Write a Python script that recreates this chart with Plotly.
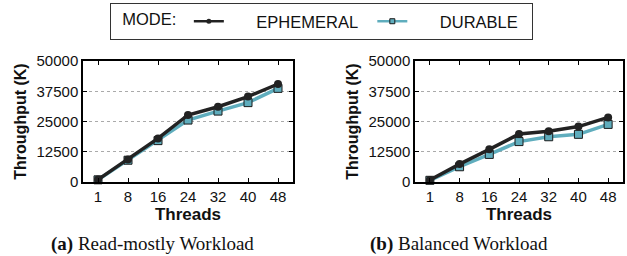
import plotly.graph_objects as go

threads = ["1", "8", "16", "24", "32", "40", "48"]
read_ephemeral = [1000, 9300, 18000, 27700, 31100, 35300, 40500]
read_durable = [900, 9000, 17100, 25600, 29300, 32800, 38700]
bal_ephemeral = [800, 7400, 13500, 19800, 21000, 22900, 26700]
bal_durable = [700, 6300, 11400, 16700, 18700, 19700, 23800]
y_ticks = [0, 12500, 25000, 37500, 50000]

BLACK = "#222222"
TEAL = "#5fadbd"
SANS = "Liberation Sans, Arial, sans-serif"
SERIF = "Liberation Serif, Times New Roman, serif"
NB = "\u00a0"

fig = go.Figure()

def add_pair(eph, dur, xa, ya):
    fig.add_trace(go.Scatter(x=threads, y=dur, xaxis=xa, yaxis=ya, mode="lines+markers",
                             line=dict(color=TEAL, width=3.5),
                             marker=dict(symbol="square", size=8, color=TEAL,
                                         line=dict(color="#1a1a1a", width=1)),
                             showlegend=False, cliponaxis=False))
    fig.add_trace(go.Scatter(x=threads, y=eph, xaxis=xa, yaxis=ya, mode="lines+markers",
                             line=dict(color=BLACK, width=3.5),
                             marker=dict(symbol="circle", size=8, color=BLACK),
                             showlegend=False, cliponaxis=False))

add_pair(read_ephemeral, read_durable, "x", "y")
add_pair(bal_ephemeral, bal_durable, "x2", "y2")

# legend-only entries
fig.add_trace(go.Scatter(x=[None], y=[None], mode="lines+markers", name=NB * 6 + "EPHEMERAL" + NB * 2,
                         line=dict(color=BLACK, width=2.5),
                         marker=dict(symbol="circle", size=5, color=BLACK)))
fig.add_trace(go.Scatter(x=[None], y=[None], mode="lines+markers", name=NB * 6 + "DURABLE" + NB * 2,
                         line=dict(color=TEAL, width=2.5),
                         marker=dict(symbol="square", size=5, color=TEAL,
                                     line=dict(color="#1a1a1a", width=1))))

xcommon = dict(type="category", range=[-0.5, 6.5], showline=True, linecolor="black",
               linewidth=1.5, mirror="ticks", ticks="inside", ticklen=4, tickcolor="black",
               showgrid=False, tickfont=dict(family=SANS, size=15, color="#111"),
               title=dict(text="<b>Threads</b>", font=dict(family=SANS, size=17, color="#111"),
                          standoff=3),
               automargin=False, fixedrange=True)
ycommon = dict(range=[0, 50000], tickvals=y_ticks, ticktext=[str(v) for v in y_ticks],
               showline=True, linecolor="black", linewidth=1.5, mirror="ticks",
               ticks="inside", ticklen=4, tickcolor="black",
               showgrid=True, gridcolor="#aaaaaa", griddash="dot", gridwidth=1,
               zeroline=False, tickfont=dict(family=SANS, size=15, color="#111"),
               title=dict(text="<b>Throughput (K)</b>", font=dict(family=SANS, size=16, color="#111"),
                          standoff=6),
               automargin=False, fixedrange=True)

W, H = 627, 256
y_dom = [1 - 182 / H, 1 - 61 / H]
fig.update_layout(
    width=W, height=H,
    margin=dict(l=0, r=0, t=0, b=0, autoexpand=False),
    paper_bgcolor="white", plot_bgcolor="white",
    xaxis=dict(xcommon, domain=[83 / W, 293 / W], anchor="y"),
    yaxis=dict(ycommon, domain=y_dom, anchor="x"),
    xaxis2=dict(xcommon, domain=[415 / W, 623 / W], anchor="y2"),
    yaxis2=dict(ycommon, domain=y_dom, anchor="x2"),
    legend=dict(orientation="h", xref="paper", yref="paper",
                x=110 / W, xanchor="left", y=1 - 3 / H, yanchor="top",
                bordercolor="#333", borderwidth=1, bgcolor="white",
                font=dict(family=SANS, size=16.5, color="#111"),
                title=dict(text=NB * 2 + "MODE:" + NB, font=dict(family=SANS, size=16.5, color="#111")),
                itemwidth=30),
    annotations=[
        dict(text="<b>(a)</b> Read-mostly Workload", xref="paper", yref="paper",
             x=152 / W, y=1 - 244 / H, xanchor="center", yanchor="middle", showarrow=False,
             font=dict(family=SERIF, size=19, color="#111")),
        dict(text="<b>(b)</b> Balanced Workload", xref="paper", yref="paper",
             x=459 / W, y=1 - 244 / H, xanchor="center", yanchor="middle", showarrow=False,
             font=dict(family=SERIF, size=19, color="#111")),
    ],
)

fig.write_html("out.html", config={"displayModeBar": False},
               post_script="document.body.style.margin='0';document.body.style.overflow='hidden';")
